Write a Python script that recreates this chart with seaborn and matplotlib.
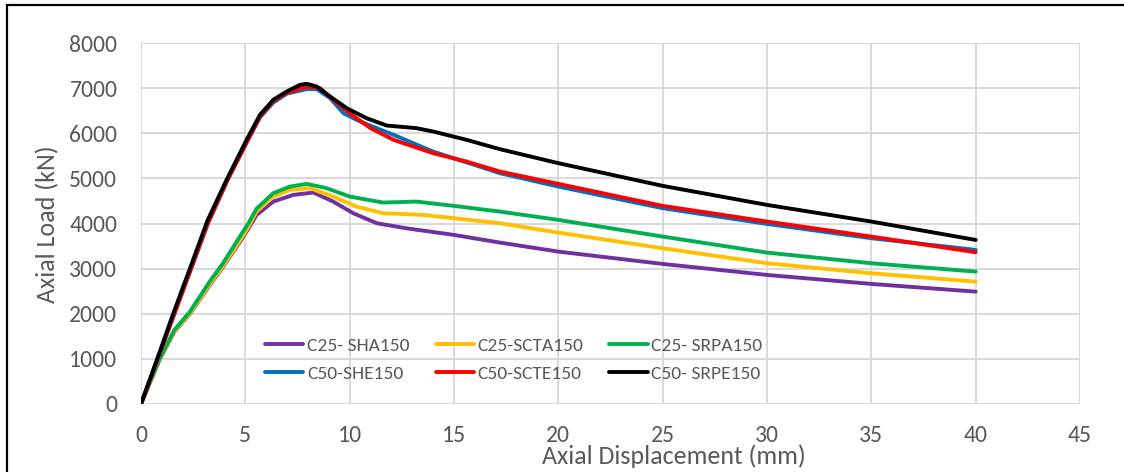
import matplotlib
matplotlib.use("Agg")
import matplotlib.pyplot as plt
from matplotlib.patches import Rectangle
import pandas as pd
import seaborn as sns

# Load-displacement records (displacement in mm, load in kN)
sha_x = [0, 0.9, 1.6, 2.35, 3.3, 3.9, 4.74, 5.14, 5.54, 6.34, 7.3, 8.26, 9.21, 10.17, 11.3,
         12.7, 15, 17.2, 20, 25, 30, 35, 40]
sha_y = [0, 990, 1600, 2000, 2640, 3020, 3590, 3880, 4190, 4486, 4634, 4686, 4486, 4228, 4006,
         3895, 3747, 3577, 3377, 3104, 2860, 2661, 2490]

scta_x = [0, 0.9, 1.6, 2.35, 3.3, 3.9, 4.74, 5.14, 5.54, 6.34, 7.14, 8.1, 9.21, 10.33, 11.6,
          13.5, 15, 17.2, 20, 25, 30, 35, 40]
scta_y = [0, 990, 1610, 2010, 2660, 3040, 3620, 3920, 4264, 4597, 4745, 4782, 4597, 4375, 4228,
          4191, 4117, 4006, 3798, 3452, 3119, 2897, 2712]

srpa_x = [0, 0.9, 1.6, 2.35, 3.3, 3.9, 4.74, 5.14, 5.54, 6.34, 7.14, 7.94, 8.9, 10, 11.6,
          13.2, 15, 17.2, 20, 25, 30, 35, 40]
srpa_y = [0, 1010, 1640, 2050, 2720, 3100, 3710, 4000, 4330, 4672, 4818, 4878, 4782, 4597, 4464,
          4486, 4390, 4264, 4080, 3710, 3355, 3119, 2934]

she_x = [0, 1, 1.6, 2.4, 3.2, 4.15, 5.1, 5.7, 6.34, 7, 7.94, 8.42, 9.06, 9.7, 10.5, 12.1,
         14, 17.2, 20, 25, 30, 35, 40]
she_y = [0, 1250, 2000, 3000, 4000, 4967, 5830, 6350, 6680, 6880, 6978, 6978, 6778, 6445, 6260,
         5965, 5594, 5115, 4818, 4339, 3991, 3674, 3415]

scte_x = [0, 1, 1.6, 2.4, 3.2, 4.15, 5.1, 5.7, 6.34, 7, 7.94, 8.58, 9.21, 10, 11, 12.1,
          14, 15.6, 17.2, 20, 25, 30, 35, 40]
scte_y = [0, 1250, 2000, 3000, 4000, 4967, 5830, 6370, 6710, 6900, 7030, 7000, 6741, 6445, 6113,
          5854, 5558, 5373, 5151, 4878, 4390, 4043, 3710, 3363]

srpe_x = [0, 1, 1.55, 2.35, 3.2, 4.1, 5.06, 5.7, 6.34, 6.98, 7.62, 7.94, 8.42, 9.06, 9.86,
          10.8, 11.77, 13.2, 14, 15.6, 17.2, 20, 25, 30, 35, 40]
srpe_y = [0, 1290, 2010, 3010, 4080, 4967, 5854, 6408, 6741, 6925, 7073, 7095, 7036, 6814, 6556,
          6335, 6171, 6113, 6038, 5854, 5647, 5337, 4834, 4412, 4043, 3636]

series_names = ["C25- SHA150", "C25-SCTA150", "C25- SRPA150",
                "C50-SHE150", "C50-SCTE150", "C50- SRPE150"]
series_colors = ["#7030a0", "#ffc000", "#00b050", "#0070c0", "#ff0000", "#000000"]
series_data = [(sha_x, sha_y), (scta_x, scta_y), (srpa_x, srpa_y),
               (she_x, she_y), (scte_x, scte_y), (srpe_x, srpe_y)]

x_ticks = [0, 5, 10, 15, 20, 25, 30, 35, 40, 45]
y_ticks = [0, 1000, 2000, 3000, 4000, 5000, 6000, 7000, 8000]

frames = []
for name, (xs, ys) in zip(series_names, series_data):
    frames.append(pd.DataFrame({"disp": xs, "load": ys, "series": name}))
df = pd.concat(frames, ignore_index=True)

sns.set_theme(style="white")
plt.rcParams["font.family"] = ["Carlito", "DejaVu Sans"]

W, H = 1124, 472
fig = plt.figure(figsize=(W / 100, H / 100), dpi=100)
ax = fig.add_axes([141 / W, 1 - 404 / H, (1080 - 141) / W, (404 - 43) / H])

sns.lineplot(data=df, x="disp", y="load", hue="series", hue_order=series_names,
             palette=dict(zip(series_names, series_colors)), estimator=None,
             sort=False, linewidth=2.8, ax=ax, legend=False)
for line in ax.lines:
    line.set_solid_joinstyle("round")
    line.set_solid_capstyle("round")

ax.set_xlim(0, 45)
ax.set_ylim(0, 8000)
ax.set_xticks(x_ticks)
ax.set_yticks(y_ticks)
ax.set_xticklabels([str(v) for v in x_ticks])
ax.set_yticklabels([str(v) for v in y_ticks])
ax.grid(True, color="#d9d9d9", linewidth=1.4)
ax.set_axisbelow(True)
for s in ax.spines.values():
    s.set_visible(False)
ax.tick_params(axis="both", length=0, labelsize=17, colors="#595959")
ax.tick_params(axis="y", pad=17)
ax.tick_params(axis="x", pad=15)
ax.set_xlabel("")
ax.set_ylabel("")

fig.text(48 / W, 1 - 224 / H, "Axial Load (kN)", rotation=90, ha="center",
         va="center", fontsize=18.7, color="#595959")
fig.text(674 / W, 1 - 456 / H, "Axial Displacement (mm)", ha="center",
         va="center", fontsize=18.7, color="#595959")

# legend: two rows of three entries
order = [0, 3, 1, 4, 2, 5]
handles = [ax.lines[i] for i in order]
labels = [series_names[i] for i in order]
ax.legend(handles, labels, ncol=3, frameon=False, loc="upper left",
          bbox_to_anchor=(265 / W, 1 - 337 / H), bbox_transform=fig.transFigure,
          borderpad=0, borderaxespad=0, handlelength=1.96, handletextpad=0.2,
          columnspacing=1.34, labelspacing=0.62,
          prop={"family": ["Carlito", "DejaVu Sans"], "size": 14},
          labelcolor="#595959")

# outer chart frame
fig.patches.append(Rectangle((7 / W, -0.1), 1.2, 1.1 - 5 / H, transform=fig.transFigure,
                             fill=False, edgecolor="black", linewidth=1.6))

fig.savefig("out.png", dpi=100)
